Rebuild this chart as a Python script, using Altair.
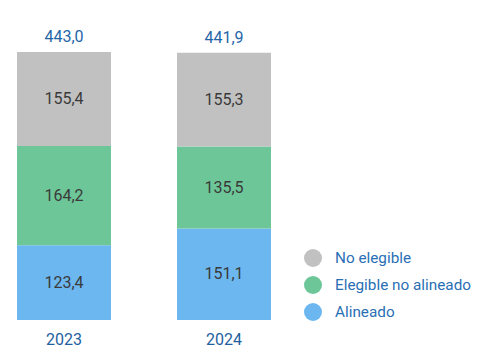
import altair as alt
import pandas as pd

years = ["2023", "2024"]
categories = ["Alineado", "Elegible no alineado", "No elegible"]
alineado = [123.4, 151.1]
elegible_no_alineado = [164.2, 135.5]
no_elegible = [155.4, 155.3]
totals = [443.0, 441.9]
colors = ["#6cb7f0", "#6dc698", "#c1c1c1"]

def fmt(v):
    return f"{v:.1f}".replace(".", ",")

rows = []
for i, y in enumerate(years):
    for k, (cat, vals) in enumerate(zip(categories, [alineado, elegible_no_alineado, no_elegible])):
        rows.append({"year": y, "cat": cat, "order": k, "value": vals[i], "label": fmt(vals[i])})
df = pd.DataFrame(rows)
tot = pd.DataFrame({"year": years, "total": totals, "label": [fmt(t) for t in totals]})

FONT = "Roboto"
x = alt.X("year:N", axis=None,
          scale=alt.Scale(range=[9, 263], paddingInner=0.4125, paddingOuter=0))
yscale = alt.Scale(domain=[0, 443], range=[312, 44], nice=False, zero=True)

base = alt.Chart(df)
bars = base.mark_bar().encode(
    x=x,
    y=alt.Y("value:Q", stack="zero", scale=yscale, axis=None),
    color=alt.Color("cat:N",
                    scale=alt.Scale(domain=categories, range=colors),
                    sort=categories,
                    legend=alt.Legend(
                        title=None, orient="none", legendX=296, legendY=241,
                        values=categories[::-1],
                        symbolType="circle", symbolSize=324, symbolStrokeWidth=0,
                        labelFont=FONT, labelFontSize=15.3, labelColor="#2a6fb5",
                        labelOffset=13, rowPadding=9, labelLimit=300)),
    order=alt.Order("order:Q", sort="ascending"),
)

seg_text = base.transform_stack(
    stack="value", groupby=["year"], as_=["y0", "y1"],
    sort=[alt.SortField("order", order="ascending")]
).transform_calculate(
    mid="(datum.y0 + datum.y1) / 2"
).mark_text(font=FONT, fontSize=16, color="#3a3a3a", baseline="middle").encode(
    x=x,
    y=alt.Y("mid:Q", scale=yscale, axis=None),
    text="label:N",
)

tot_text = alt.Chart(tot).mark_text(
    font=FONT, fontSize=16, color="#1f66a8", baseline="middle", dy=-15
).encode(
    x=x,
    y=alt.Y("total:Q", scale=yscale, axis=None),
    text="label:N",
)

year_text = alt.Chart(tot).mark_text(
    font=FONT, fontSize=16, color="#1f5f9e", baseline="middle", dy=20
).encode(
    x=x,
    y=alt.YDatum(0),
    text="year:N",
)

chart = alt.layer(bars, seg_text, tot_text, year_text).properties(
    width=465, height=339,
    autosize=alt.AutoSizeParams(type="none"),
    padding=0,
).configure_view(stroke=None)

chart.save("out.html", embed_options={"renderer": "svg", "actions": False})
